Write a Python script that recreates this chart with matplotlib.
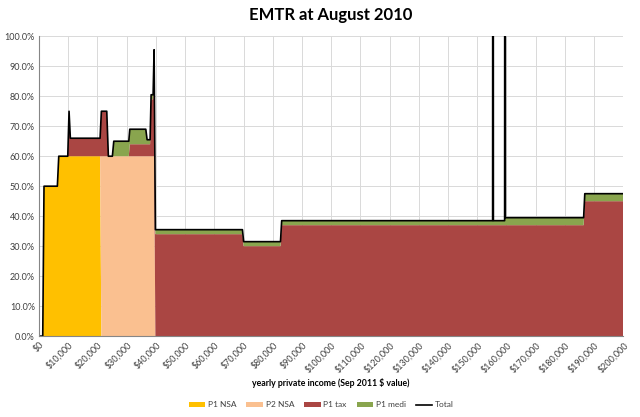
import matplotlib
matplotlib.use('Agg')
import matplotlib.pyplot as plt
from matplotlib.ticker import PercentFormatter, FuncFormatter, MultipleLocator

plt.rcParams['font.family'] = ['Lato', 'DejaVu Sans']

# yearly private income ($) and effective marginal tax rates (%)
income = [0, 1270, 1700, 6270, 6750, 9830, 10270, 10720, 20890, 21340,
          23180, 23730, 25100, 25580, 30720, 31060, 36540, 36990, 38010, 38360,
          39040, 39380, 39830, 69620, 70030, 82640, 83050, 155250, 155380, 155510,
          159360, 159490, 159620, 186400, 186800, 200000]
p1_nsa = [0, 0, 50, 50, 60, 60, 60, 60, 60, 0,
          0, 0, 0, 0, 0, 0, 0, 0, 0, 0,
          0, 0, 0, 0, 0, 0, 0, 0, 0, 0,
          0, 0, 0, 0, 0, 0]
p2_nsa = [0, 0, 0, 0, 0, 0, 0, 0, 0, 60,
          60, 60, 60, 60, 60, 60, 60, 60, 60, 60,
          60, 60, 0, 0, 0, 0, 0, 0, 0, 0,
          0, 0, 0, 0, 0, 0]
p1_tax = [0, 0, 0, 0, 0, 0, 15, 6, 6, 15,
          15, 0, 0, 0, 0, 4, 4, 4, 4, 19,
          19, 29, 34, 34, 30, 30, 37, 37, 37, 37,
          37, 37, 37, 37, 45, 45]
p1_medi = [0, 0, 0, 0, 0, 0, 0, 0, 0, 0,
           0, 0, 0, 5, 5, 5, 5, 1.5, 1.5, 1.5,
           1.5, 1.5, 1.5, 1.5, 1.5, 1.5, 1.5, 1.5, 1.5, 1.5,
           1.5, 2.5, 2.5, 2.5, 2.5, 2.5]
total = [0, 0, 50, 50, 60, 60, 75, 66, 66, 75,
         75, 60, 60, 65, 65, 69, 69, 65.5, 65.5, 80.5,
         80.5, 95.5, 35.5, 35.5, 31.5, 31.5, 38.5, 38.5, 400, 38.5,
         38.5, 400, 39.5, 39.5, 47.5, 47.5]

names = ['P1 NSA', 'P2 NSA', 'P1 tax', 'P1 medi']
colors = ['#FFC000', '#FAC090', '#AA4643', '#89A54E']

fig = plt.figure(figsize=(6.4, 4.17), dpi=100)
ax = fig.add_axes([0.061, 0.194, 0.913, 0.719])

stacks = [[v / 100 for v in s] for s in (p1_nsa, p2_nsa, p1_tax, p1_medi)]
ax.stackplot(income, *stacks, labels=names, colors=colors, linewidth=0)
ax.plot(income, [v / 100 for v in total], color='black', lw=1.2, label='Total')

ax.set_xlim(0, 200000)
ax.set_ylim(0, 1)
ax.xaxis.set_major_locator(MultipleLocator(10000))
ax.yaxis.set_major_locator(MultipleLocator(0.1))
ax.yaxis.set_major_formatter(PercentFormatter(1, decimals=1))
ax.xaxis.set_major_formatter(FuncFormatter(lambda v, p: '${:,.0f}'.format(v)))
ax.grid(True, color='#D9D9D9', lw=0.7)
ax.set_axisbelow(True)
for s in ['top', 'right']:
    ax.spines[s].set_visible(False)
for s in ['left', 'bottom']:
    ax.spines[s].set_color('#868686')
    ax.spines[s].set_linewidth(0.8)
ax.tick_params(axis='both', labelsize=6.5, labelcolor='#404040', length=0, pad=3)
plt.setp(ax.get_xticklabels(), rotation=45, ha='right', rotation_mode='anchor')

ax.set_xlabel('yearly private income (Sep 2011 $ value)', fontsize=6.3,
              fontweight='bold', labelpad=3)
fig.text(0.517, 0.963, 'EMTR at August 2010', ha='center', va='center',
         fontsize=12, fontweight='bold')
leg = fig.legend(loc='center', bbox_to_anchor=(0.502, 0.029), ncol=5, frameon=False,
                 fontsize=6, handlelength=2.0, handleheight=0.55, columnspacing=1.2,
                 handletextpad=0.3)
for t in leg.get_texts():
    t.set_color('#404040')

fig.savefig('out.png', dpi=100)
